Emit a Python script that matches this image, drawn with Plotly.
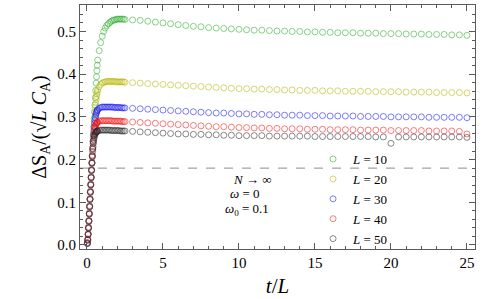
import plotly.graph_objects as go

# ---------------- data ----------------
# sampling grid in t/L
t_rise = [0.025, 0.05, 0.075, 0.1, 0.125, 0.15, 0.175, 0.2, 0.225, 0.25,
          0.275, 0.3, 0.325, 0.35, 0.375, 0.4, 0.425, 0.45, 0.475, 0.5,
          0.525, 0.55, 0.575, 0.6, 0.625, 0.65, 0.675, 0.7]
t_plateau = [0.8, 0.9, 1.0, 1.1, 1.2, 1.3, 1.4, 1.5, 1.6, 1.7, 1.8, 1.9,
             2.0, 2.1, 2.2, 2.3, 2.4, 2.5]
t_tail = [3.0, 3.5, 4.0, 4.5, 5.0, 5.5, 6.0, 6.5, 7.0, 7.5, 8.0, 8.5, 9.0,
          9.5, 10.0, 10.5, 11.0, 11.5, 12.0, 12.5, 13.0, 13.5, 14.0, 14.5,
          15.0, 15.5, 16.0, 16.5, 17.0, 17.5, 18.0, 18.5, 19.0, 19.5, 20.0,
          20.5, 21.0, 21.5, 22.0, 22.5, 23.0, 23.5, 24.0, 24.5, 25.0]
t_over_L = t_rise + t_plateau + t_tail

L_values = [10, 20, 30, 40, 50]

S_L10 = [0.004, 0.012, 0.025, 0.040, 0.056, 0.073, 0.090, 0.107, 0.124, 0.141,
         0.158, 0.175, 0.192, 0.209, 0.226, 0.243, 0.260, 0.277, 0.294, 0.311,
         0.328, 0.345, 0.362, 0.379, 0.394, 0.408, 0.421, 0.433,
         0.455, 0.474, 0.489, 0.500, 0.508, 0.514, 0.518, 0.521, 0.524, 0.526,
         0.527, 0.528, 0.529, 0.529, 0.529, 0.529, 0.529, 0.528,
         0.527, 0.526, 0.524, 0.522, 0.520, 0.518, 0.516, 0.514, 0.512, 0.511,
         0.509, 0.508, 0.507, 0.506, 0.505, 0.504, 0.503, 0.503, 0.502, 0.501,
         0.501, 0.500, 0.500, 0.499, 0.499, 0.498, 0.498, 0.497, 0.497, 0.497,
         0.496, 0.496, 0.496, 0.495, 0.495, 0.495, 0.494, 0.494, 0.494, 0.493,
         0.493, 0.493, 0.492, 0.492, 0.491]

S_L20 = [0.005, 0.013, 0.026, 0.041, 0.057, 0.074, 0.091, 0.108, 0.125, 0.142,
         0.159, 0.176, 0.193, 0.210, 0.227, 0.243, 0.258, 0.273, 0.287, 0.300,
         0.312, 0.323, 0.333, 0.341, 0.348, 0.354, 0.359, 0.363,
         0.371, 0.376, 0.379, 0.381, 0.382, 0.383, 0.383, 0.383, 0.383, 0.383,
         0.383, 0.382, 0.382, 0.382, 0.382, 0.382, 0.382, 0.381,
         0.380, 0.379, 0.378, 0.377, 0.376, 0.375, 0.374, 0.373, 0.372, 0.371,
         0.370, 0.369, 0.368, 0.367, 0.366, 0.366, 0.365, 0.365, 0.364, 0.364,
         0.363, 0.363, 0.362, 0.362, 0.362, 0.361, 0.361, 0.361, 0.360, 0.360,
         0.360, 0.360, 0.359, 0.359, 0.359, 0.359, 0.358, 0.358, 0.358, 0.358,
         0.357, 0.357, 0.357, 0.357, 0.356]

S_L30 = [0.003, 0.011, 0.024, 0.039, 0.055, 0.072, 0.089, 0.106, 0.123, 0.140,
         0.157, 0.174, 0.191, 0.208, 0.225, 0.242, 0.256, 0.267, 0.277, 0.285,
         0.292, 0.298, 0.303, 0.307, 0.310, 0.313, 0.315, 0.317,
         0.320, 0.322, 0.323, 0.323, 0.323, 0.323, 0.323, 0.323, 0.323, 0.323,
         0.322, 0.322, 0.322, 0.322, 0.322, 0.321, 0.321, 0.321,
         0.320, 0.319, 0.318, 0.317, 0.316, 0.315, 0.314, 0.313, 0.312, 0.311,
         0.310, 0.309, 0.309, 0.308, 0.307, 0.307, 0.306, 0.306, 0.305, 0.305,
         0.304, 0.304, 0.304, 0.303, 0.303, 0.303, 0.302, 0.302, 0.302, 0.302,
         0.301, 0.301, 0.301, 0.301, 0.300, 0.300, 0.300, 0.300, 0.300, 0.299,
         0.299, 0.299, 0.299, 0.299, 0.298]

S_L40 = [0.006, 0.014, 0.027, 0.042, 0.058, 0.075, 0.092, 0.109, 0.126, 0.143,
         0.160, 0.177, 0.194, 0.210, 0.224, 0.237, 0.248, 0.257, 0.264, 0.270,
         0.274, 0.278, 0.281, 0.283, 0.285, 0.286, 0.287, 0.288,
         0.290, 0.291, 0.291, 0.291, 0.291, 0.291, 0.291, 0.291, 0.291, 0.290,
         0.290, 0.290, 0.290, 0.290, 0.290, 0.289, 0.289, 0.289,
         0.288, 0.287, 0.286, 0.285, 0.284, 0.283, 0.282, 0.281, 0.280, 0.279,
         0.278, 0.277, 0.277, 0.276, 0.275, 0.275, 0.274, 0.274, 0.273, 0.273,
         0.272, 0.272, 0.272, 0.271, 0.271, 0.271, 0.270, 0.270, 0.270, 0.270,
         0.269, 0.269, 0.269, 0.269, 0.268, 0.268, 0.268, 0.268, 0.268, 0.267,
         0.267, 0.267, 0.267, 0.266, 0.260]

S_L50 = [0.004, 0.012, 0.025, 0.040, 0.056, 0.073, 0.090, 0.107, 0.124, 0.141,
         0.158, 0.175, 0.192, 0.206, 0.219, 0.230, 0.239, 0.246, 0.252, 0.256,
         0.259, 0.261, 0.263, 0.264, 0.265, 0.266, 0.267, 0.267,
         0.268, 0.269, 0.269, 0.269, 0.269, 0.269, 0.269, 0.269, 0.268, 0.268,
         0.268, 0.268, 0.268, 0.268, 0.267, 0.267, 0.267, 0.267,
         0.266, 0.265, 0.264, 0.263, 0.262, 0.261, 0.260, 0.260, 0.259, 0.259,
         0.258, 0.258, 0.257, 0.257, 0.256, 0.256, 0.256, 0.256, 0.255, 0.255,
         0.255, 0.255, 0.255, 0.255, 0.254, 0.254, 0.254, 0.254, 0.254, 0.254,
         0.254, 0.254, 0.253, 0.253, 0.238, 0.253, 0.253, 0.253, 0.253, 0.253,
         0.253, 0.253, 0.253, 0.253, 0.252]

series = [S_L10, S_L20, S_L30, S_L40, S_L50]
colors = ["rgb(40,170,40)", "rgb(180,180,0)", "rgb(20,20,240)",
          "rgb(240,20,20)", "rgb(40,40,40)"]

saturation_level = 0.18  # dashed reference line

x_ticks = [0, 5, 10, 15, 20, 25]
y_ticks = [0.0, 0.1, 0.2, 0.3, 0.4, 0.5]
y_tick_text = ["0.0", "0.1", "0.2", "0.3", "0.4", "0.5"]

# ---------------- figure ----------------
SERIF = "Liberation Serif, Times New Roman, serif"
fig = go.Figure()

for L, vals, col in zip(L_values, series, colors):
    fig.add_trace(go.Scatter(
        x=t_over_L, y=vals, mode="markers",
        name="<i>L</i> = %d" % L,
        marker=dict(symbol="circle-open", size=6, color=col,
                    opacity=0.55, line=dict(width=1, color=col)),
    ))

fig.add_shape(type="line", xref="paper", x0=0, x1=1, yref="y",
              y0=saturation_level, y1=saturation_level,
              line=dict(color="rgb(140,140,140)", width=1, dash="dash"),
              layer="below")

ann_font = dict(family=SERIF, size=13, color="black")
fig.add_annotation(x=10.85, y=0.153, text="<i>N</i> → ∞", showarrow=False,
                   font=ann_font, xref="x", yref="y")
fig.add_annotation(x=10.4, y=0.121, text="<i>ω</i> = 0", showarrow=False,
                   font=ann_font, xref="x", yref="y")
fig.add_annotation(x=10.5, y=0.082, text="<i>ω</i><sub>0</sub> = 0.1",
                   showarrow=False, font=ann_font, xref="x", yref="y")

axis_common = dict(
    showline=True, linecolor="rgb(90,90,90)", linewidth=1, mirror="allticks",
    ticks="inside", ticklen=6, tickcolor="rgb(90,90,90)", tickwidth=1,
    showgrid=False, zeroline=False,
    tickfont=dict(family=SERIF, size=15, color="black"),
)

fig.update_xaxes(
    range=[-0.46, 25.53], tickvals=x_ticks,
    minor=dict(ticks="inside", ticklen=3, dtick=1, tick0=0,
               tickcolor="rgb(90,90,90)", showgrid=False),
    title=dict(text="<i>t</i>/<i>L</i>", font=dict(family=SERIF, size=21,
                                               color="black"), standoff=8),
    **axis_common,
)
fig.update_yaxes(
    range=[-0.0094, 0.562], tickvals=y_ticks, ticktext=y_tick_text,
    minor=dict(ticks="inside", ticklen=3, dtick=0.02, tick0=0,
               tickcolor="rgb(90,90,90)", showgrid=False),
    title=dict(text="ΔS<sub>A</sub>/(√<i>L</i> <i>C</i><sub>A</sub>)",
               font=dict(family=SERIF, size=20, color="black"), standoff=5),
    **axis_common,
)

fig.update_layout(
    width=493, height=299,
    margin=dict(l=80, r=18, t=5, b=50, autoexpand=False),
    paper_bgcolor="white", plot_bgcolor="white",
    showlegend=True,
    legend=dict(x=0.59, y=0.43, xanchor="left", yanchor="top",
                bgcolor="rgba(0,0,0,0)", borderwidth=0,
                font=dict(family=SERIF, size=13, color="black"),
                itemwidth=30, tracegroupgap=0),
)

fig.write_html("out.html", config={"displayModeBar": False},
               post_script="document.body.style.margin='0';")
